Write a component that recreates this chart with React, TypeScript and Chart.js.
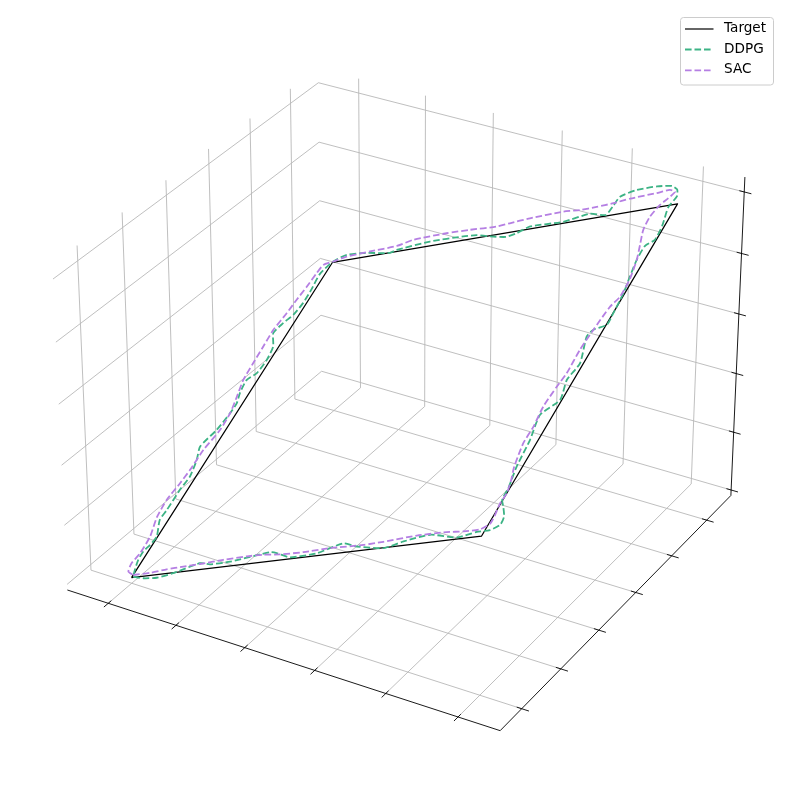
import React, { useEffect, useRef } from "react";
import { Chart, registerables } from "chart.js";

Chart.register(...registerables);

// ---------- axis ticks and limits (data units) ----------
const X_TICKS = [0, 0.2, 0.4, 0.6, 0.8, 1.0];
const Y_TICKS = [0, 0.2, 0.4, 0.6, 0.8, 1.0];
const Z_TICKS = [0, 0.2, 0.4, 0.6, 0.8, 1.0];
const X_LIMITS = [-0.1225, 1.1151];
const Y_LIMITS = [-0.1078, 1.1414];
const Z_LIMITS = [-0.0192, 1.048];

// ---------- series ----------
const LEGEND_LABELS = ["Target", "DDPG", "SAC"];

const TARGET_X = [0, 1, 1, 0, 0];
const TARGET_Y = [0, 0, 1, 1, 0];
const TARGET_Z = [0, 0.5, 1, 0.5, 0];

const DDPG_X = [
  0.004, 0.04, 0.082, 0.127, 0.193, 0.227, 0.286, 0.393, 0.416, 0.465,
  0.54, 0.603, 0.65, 0.733, 0.781, 0.848, 0.931, 0.979, 1.014, 1.035,
  1.032, 1.013, 0.998, 0.996, 0.983, 0.976, 0.962, 0.995, 0.98, 0.99,
  0.963, 0.971, 1.002, 1.001, 0.996, 0.986, 0.977, 0.977, 0.996, 0.993,
  0.978, 0.985, 0.973, 0.951, 0.906, 0.85, 0.81, 0.806, 0.8, 0.748,
  0.679, 0.583, 0.553, 0.526, 0.473, 0.426, 0.386, 0.286, 0.192, 0.175,
  0.085, 0.033, 0.0, -0.018, -0.013, -0.012, -0.019, -0.036, -0.048, -0.019,
  -0.012, -0.017, -0.037, -0.031, -0.02, -0.021, -0.03, -0.05, -0.033, -0.02,
  -0.025, -0.026, -0.028, -0.003, -0.008, -0.016, -0.015, -0.005, 0.004,
];
const DDPG_Y = [
  0.002, -0.007, -0.01, -0.002, 0.02, 0.013, 0.014, 0.029, 0.023, 0.005,
  0.008, 0.029, 0.014, -0.001, 0.012, 0.023, 0.005, 0.015, 0.016, 0.028,
  0.052, 0.083, 0.105, 0.139, 0.203, 0.283, 0.359, 0.399, 0.461, 0.509,
  0.594, 0.614, 0.624, 0.659, 0.722, 0.775, 0.828, 0.872, 0.887, 0.932,
  0.994, 1.026, 1.051, 1.066, 1.074, 1.074, 1.06, 1.031, 1.003, 1.017,
  1.005, 1.008, 0.992, 0.985, 0.997, 1.01, 1.013, 1.015, 1.005, 0.999,
  1.015, 1.018, 1.002, 0.964, 0.911, 0.868, 0.83, 0.805, 0.775, 0.726,
  0.682, 0.64, 0.621, 0.578, 0.544, 0.513, 0.461, 0.411, 0.367, 0.313,
  0.272, 0.21, 0.179, 0.125, 0.1, 0.081, 0.055, 0.024, 0.002,
];
const DDPG_Z = [
  0.003, 0.017, 0.036, 0.063, 0.107, 0.12, 0.15, 0.211, 0.22, 0.235,
  0.274, 0.316, 0.332, 0.366, 0.397, 0.436, 0.468, 0.497, 0.515, 0.532,
  0.542, 0.548, 0.552, 0.568, 0.593, 0.63, 0.661, 0.697, 0.721, 0.75,
  0.779, 0.793, 0.813, 0.83, 0.859, 0.881, 0.903, 0.925, 0.942, 0.963,
  0.986, 1.006, 1.012, 1.009, 0.99, 0.962, 0.935, 0.919, 0.902, 0.883,
  0.842, 0.796, 0.773, 0.756, 0.735, 0.718, 0.7, 0.651, 0.599, 0.587,
  0.55, 0.526, 0.501, 0.473, 0.449, 0.428, 0.406, 0.385, 0.364, 0.354,
  0.335, 0.312, 0.292, 0.274, 0.262, 0.246, 0.216, 0.181, 0.167, 0.147,
  0.124, 0.092, 0.076, 0.061, 0.046, 0.033, 0.02, 0.01, 0.003,
];

const SAC_X = [
  0.0, 0.051, 0.098, 0.146, 0.194, 0.261, 0.329, 0.378, 0.428, 0.497,
  0.571, 0.667, 0.721, 0.81, 0.892, 0.94, 0.984, 1.004, 1.003, 0.998,
  1.0, 0.99, 0.976, 0.962, 0.963, 0.957, 0.962, 0.968, 0.966, 0.971,
  0.98, 0.992, 0.99, 0.977, 0.96, 0.943, 0.939, 0.949, 0.962, 0.971,
  0.952, 0.917, 0.845, 0.801, 0.756, 0.709, 0.66, 0.566, 0.511, 0.475,
  0.394, 0.324, 0.227, 0.184, 0.105, 0.036, 0.001, -0.026, -0.031, -0.035,
  -0.041, -0.046, -0.055, -0.053, -0.051, -0.048, -0.034, -0.021, -0.019, -0.032,
  -0.034, -0.039, -0.048, -0.043, -0.025, -0.023, -0.03, -0.023, 0.0,
];
const SAC_Y = [
  0.008, 0.008, 0.013, 0.016, 0.018, 0.022, 0.024, 0.023, 0.018, 0.016,
  0.019, 0.016, 0.019, 0.026, 0.025, 0.021, 0.021, 0.035, 0.061, 0.095,
  0.124, 0.164, 0.204, 0.275, 0.324, 0.384, 0.444, 0.483, 0.553, 0.614,
  0.683, 0.712, 0.767, 0.828, 0.878, 0.928, 0.971, 1.006, 1.025, 1.044,
  1.053, 1.05, 1.047, 1.041, 1.038, 1.037, 1.041, 1.038, 1.032, 1.028,
  1.033, 1.035, 1.032, 1.02, 1.016, 1.012, 1.002, 0.996, 0.969, 0.925,
  0.882, 0.84, 0.787, 0.732, 0.678, 0.623, 0.568, 0.513, 0.459, 0.398,
  0.336, 0.295, 0.244, 0.188, 0.128, 0.077, 0.047, 0.021, 0.008,
];
const SAC_Z = [
  0.004, 0.03, 0.056, 0.081, 0.106, 0.142, 0.177, 0.201, 0.223, 0.257,
  0.295, 0.342, 0.37, 0.418, 0.459, 0.481, 0.503, 0.52, 0.532, 0.547,
  0.562, 0.577, 0.59, 0.619, 0.644, 0.671, 0.703, 0.726, 0.76, 0.793,
  0.832, 0.852, 0.879, 0.903, 0.919, 0.936, 0.955, 0.978, 0.994, 1.008,
  1.003, 0.984, 0.946, 0.921, 0.897, 0.873, 0.851, 0.802, 0.772, 0.752,
  0.714, 0.68, 0.63, 0.602, 0.561, 0.524, 0.502, 0.485, 0.469, 0.445,
  0.421, 0.397, 0.366, 0.34, 0.314, 0.288, 0.267, 0.246, 0.22, 0.183,
  0.151, 0.128, 0.098, 0.073, 0.052, 0.027, 0.009, -0.001, 0.004,
];

// ---------- view (matplotlib-like 3D perspective) ----------
const ELEV = 30;
const AZIM = -60;
const DIST = 10;
const BOX_ASPECT = [8 / 7, 8 / 7, 6 / 7];
const VIEW_X = [-0.093318, 0.08871];
const VIEW_Y = [-0.093502, 0.088525];

const COLORS = {
  target: "#000000",
  ddpg: "#3cb385",
  sac: "#b57fe3",
  grid: "#b8b8b8",
  axis: "#000000",
};

const DASH = [6.6, 2.9];
const DASH_WIDTH = 1.8;
const TICK_IN = 0.011;
const TICK_OUT = 0.016;

type V3 = [number, number, number];

function makeProjector() {
  const el = (ELEV * Math.PI) / 180;
  const az = (AZIM * Math.PI) / 180;
  const w: V3 = [Math.cos(el) * Math.cos(az), Math.cos(el) * Math.sin(az), Math.sin(el)];
  const R: V3 = [BOX_ASPECT[0] / 2, BOX_ASPECT[1] / 2, BOX_ASPECT[2] / 2];
  const E: V3 = [R[0] + DIST * w[0], R[1] + DIST * w[1], R[2] + DIST * w[2]];
  let u: V3 = [-w[1], w[0], 0];
  const nu = Math.hypot(u[0], u[1], u[2]);
  u = [u[0] / nu, u[1] / nu, u[2] / nu];
  const v: V3 = [
    w[1] * u[2] - w[2] * u[1],
    w[2] * u[0] - w[0] * u[2],
    w[0] * u[1] - w[1] * u[0],
  ];
  return (x: number, y: number, z: number) => {
    const p: V3 = [
      ((x - X_LIMITS[0]) / (X_LIMITS[1] - X_LIMITS[0])) * BOX_ASPECT[0],
      ((y - Y_LIMITS[0]) / (Y_LIMITS[1] - Y_LIMITS[0])) * BOX_ASPECT[1],
      ((z - Z_LIMITS[0]) / (Z_LIMITS[1] - Z_LIMITS[0])) * BOX_ASPECT[2],
    ];
    const d: V3 = [p[0] - E[0], p[1] - E[1], p[2] - E[2]];
    const qx = u[0] * d[0] + u[1] * d[1] + u[2] * d[2];
    const qy = v[0] * d[0] + v[1] * d[1] + v[2] * d[2];
    const qz = w[0] * d[0] + w[1] * d[1] + w[2] * d[2];
    return { x: qx / -qz, y: qy / -qz };
  };
}

function lineDataset(points: { x: number; y: number }[], color: string, width: number, order: number, dash: number[] = []) {
  return {
    data: points,
    showLine: true,
    borderColor: color,
    backgroundColor: color,
    borderWidth: width,
    borderDash: dash,
    borderCapStyle: "butt" as const,
    borderJoinStyle: "round" as const,
    pointRadius: 0,
    pointHoverRadius: 0,
    fill: false,
    tension: 0,
    order,
  };
}

const legendPlugin = {
  id: "mplLegend",
  afterDraw(chart: any) {
    const ctx: CanvasRenderingContext2D = chart.ctx;
    ctx.save();
    const bx = 680.5, by = 17.5, bw = 93, bh = 67.5, r = 3;
    ctx.beginPath();
    ctx.moveTo(bx + r, by);
    ctx.lineTo(bx + bw - r, by);
    ctx.arcTo(bx + bw, by, bx + bw, by + r, r);
    ctx.lineTo(bx + bw, by + bh - r);
    ctx.arcTo(bx + bw, by + bh, bx + bw - r, by + bh, r);
    ctx.lineTo(bx + r, by + bh);
    ctx.arcTo(bx, by + bh, bx, by + bh - r, r);
    ctx.lineTo(bx, by + r);
    ctx.arcTo(bx, by, bx + r, by, r);
    ctx.closePath();
    ctx.fillStyle = "rgba(255,255,255,0.8)";
    ctx.fill();
    ctx.strokeStyle = "#cccccc";
    ctx.lineWidth = 1;
    ctx.stroke();

    const rows = [
      { label: LEGEND_LABELS[0], color: COLORS.target, dash: [] as number[], lw: 1.2, y: 29 },
      { label: LEGEND_LABELS[1], color: COLORS.ddpg, dash: DASH, lw: DASH_WIDTH, y: 49.5 },
      { label: LEGEND_LABELS[2], color: COLORS.sac, dash: DASH, lw: DASH_WIDTH, y: 70.3 },
    ];
    for (const row of rows) {
      ctx.beginPath();
      ctx.setLineDash(row.dash);
      ctx.strokeStyle = row.color;
      ctx.lineWidth = row.lw;
      ctx.moveTo(685, row.y);
      ctx.lineTo(713.5, row.y);
      ctx.stroke();
      ctx.setLineDash([]);
      ctx.fillStyle = "#000000";
      ctx.font = '13.6px "DejaVu Sans"';
      ctx.textBaseline = "middle";
      ctx.textAlign = "left";
      ctx.fillText(row.label, 724, row.y - 0.5);
    }
    ctx.restore();
  },
};

export default function App() {
  const canvasRef = useRef<HTMLCanvasElement | null>(null);

  useEffect(() => {
    if (!canvasRef.current) return;
    const proj = makeProjector();
    const [xa, xb] = X_LIMITS;
    const [ya, yb] = Y_LIMITS;
    const [za, zb] = Z_LIMITS;
    const xr = xb - xa, yr = yb - ya;

    const series = (xs: number[], ys: number[], zs: number[]) =>
      xs.map((x, i) => proj(x, ys[i], zs[i]));

    const datasets: any[] = [];

    datasets.push({ ...lineDataset(series(SAC_X, SAC_Y, SAC_Z), COLORS.sac, DASH_WIDTH, 0, DASH), tension: 0.2 });
    datasets.push({ ...lineDataset(series(DDPG_X, DDPG_Y, DDPG_Z), COLORS.ddpg, DASH_WIDTH, 1, DASH), tension: 0.2 });
    datasets.push(lineDataset(series(TARGET_X, TARGET_Y, TARGET_Z), COLORS.target, 1.25, 2));

    // axis lines
    datasets.push(lineDataset([proj(xa, ya, za), proj(xb, ya, za)], COLORS.axis, 0.9, 3));
    datasets.push(lineDataset([proj(xb, ya, za), proj(xb, yb, za)], COLORS.axis, 0.9, 3));
    datasets.push(lineDataset([proj(xb, yb, za), proj(xb, yb, zb)], COLORS.axis, 0.9, 3));

    // tick marks
    for (const t of X_TICKS) {
      datasets.push(lineDataset([proj(t, ya + TICK_IN * yr, za), proj(t, ya - TICK_OUT * yr, za)], COLORS.axis, 0.9, 3));
    }
    for (const t of Y_TICKS) {
      datasets.push(lineDataset([proj(xb - TICK_IN * xr, t, za), proj(xb + TICK_OUT * xr, t, za)], COLORS.axis, 0.9, 3));
    }
    for (const t of Z_TICKS) {
      datasets.push(lineDataset([proj(xb - TICK_IN * xr, yb, t), proj(xb + TICK_OUT * xr, yb, t)], COLORS.axis, 0.9, 3));
    }

    // grid lines
    for (const t of X_TICKS) {
      datasets.push(lineDataset([proj(t, ya, za), proj(t, yb, za), proj(t, yb, zb)], COLORS.grid, 0.9, 4));
    }
    for (const t of Y_TICKS) {
      datasets.push(lineDataset([proj(xb, t, za), proj(xa, t, za), proj(xa, t, zb)], COLORS.grid, 0.9, 4));
    }
    for (const t of Z_TICKS) {
      datasets.push(lineDataset([proj(xa, ya, t), proj(xa, yb, t), proj(xb, yb, t)], COLORS.grid, 0.9, 4));
    }

    const chart = new Chart(canvasRef.current, {
      type: "scatter",
      data: { datasets },
      options: {
        animation: false,
        responsive: false,
        events: [],
        layout: { padding: 0 },
        scales: {
          x: { type: "linear", min: VIEW_X[0], max: VIEW_X[1], display: false, bounds: "data" },
          y: { type: "linear", min: VIEW_Y[0], max: VIEW_Y[1], display: false, bounds: "data" },
        },
        plugins: {
          legend: { display: false },
          tooltip: { enabled: false },
        },
      },
      plugins: [legendPlugin],
    } as any);

    return () => chart.destroy();
  }, []);

  return (
    <div style={{ position: "absolute", left: 0, top: 0, width: 790, height: 790, background: "#ffffff" }}>
      <canvas ref={canvasRef} width={790} height={790} style={{ display: "block", width: 790, height: 790 }} />
    </div>
  );
}
